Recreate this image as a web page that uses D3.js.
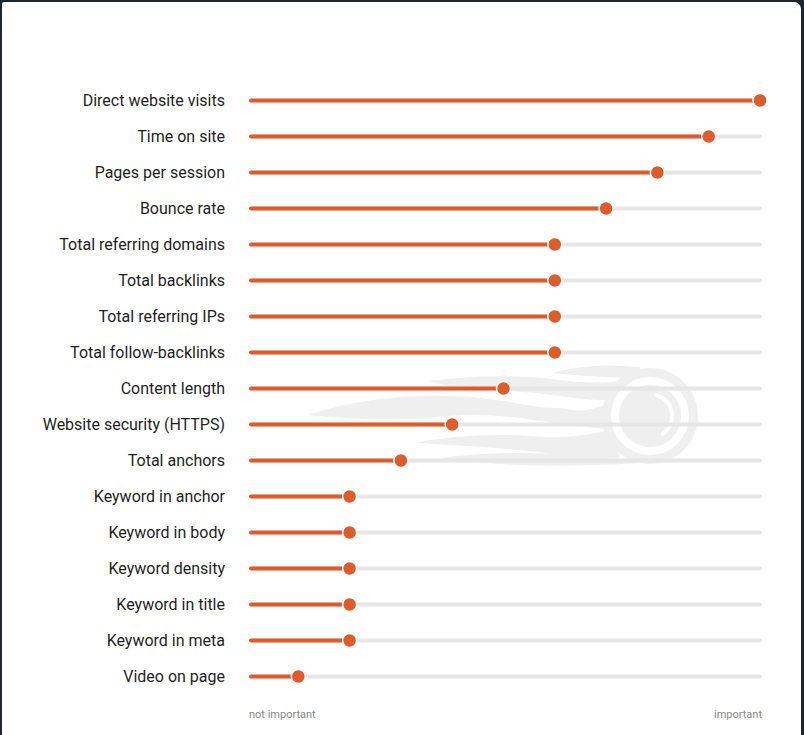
<!DOCTYPE html>
<html>
<head>
<meta charset="utf-8">
<script src="https://cdn.jsdelivr.net/npm/d3@7"></script>
<style>
  html, body { margin: 0; padding: 0; background: #1d2530; overflow: hidden; }
  #frame { position: absolute; left: 2px; top: 2px; width: 799px; height: 760px; background: #fff; border-top-right-radius: 7px; border-top-left-radius: 2px; }
  svg { position: absolute; left: 0; top: 0; }
</style>
</head>
<body>
<div id="frame"></div>
<script>
const categories = [
  "Direct website visits", "Time on site", "Pages per session", "Bounce rate",
  "Total referring domains", "Total backlinks", "Total referring IPs",
  "Total follow-backlinks", "Content length", "Website security (HTTPS)",
  "Total anchors", "Keyword in anchor", "Keyword in body", "Keyword density",
  "Keyword in title", "Keyword in meta", "Video on page"
];
const values = [10, 9, 8, 7, 6, 6, 6, 6, 5, 4, 3, 2, 2, 2, 2, 2, 1];
const axisLabels = ["not important", "important"];
const domainMax = 10;

const W = 804, H = 735;
const svg = d3.select("body").append("svg").attr("width", W).attr("height", H);

const x = d3.scaleLinear().domain([0, domainMax]).range([247, 760]);
const y = d3.scalePoint().domain(categories).range([100.5, 676.5]).padding(0);

const orange = "#de5b2a";
const track = "#e6e6e6";
const wm = "#efefef";

// Watermark (flame logo)
const g = svg.append("g");
const cx = 650, cy = 416;
g.append("circle").attr("cx", cx).attr("cy", cy).attr("r", 48).attr("fill", wm);
const tongues = [
  "M552,373 Q590,362 640,367 L645,378 Q600,378 552,373 Z",
  "M428,381 Q500,372 560,380 Q600,386 640,378 L640,400 Q600,402 560,396 Q500,388 470,392 Q450,386 428,381 Z",
  "M307,415 Q360,398 420,396 Q470,394 520,404 Q560,412 610,405 L615,430 Q560,424 520,418 Q470,412 430,418 Q370,422 307,415 Z",
  "M414,443 Q470,432 530,436 Q570,440 610,430 L620,458 Q580,462 540,452 Q480,446 414,443 Z",
  "M440,458 Q520,448 600,458 L640,463 Q560,468 500,464 Q470,462 440,458 Z"
];
g.selectAll("path.t").data(tongues).join("path").attr("class", "t").attr("d", d => d).attr("fill", wm);
const cuts = [
  "M470,392 Q520,396 560,408 Q590,414 600,405 Q585,402 560,398 Q510,390 470,392 Z",
  "M430,418 Q480,420 530,428 Q560,432 590,428 Q560,424 520,419 Q470,414 430,418 Z"
];
g.selectAll("path.c").data(cuts).join("path").attr("class", "c").attr("d", d => d).attr("fill", "#fff");
g.append("circle").attr("cx", cx).attr("cy", cy).attr("r", 35).attr("fill", "none").attr("stroke", "#fff").attr("stroke-width", 8);
const arc = d3.arc().innerRadius(20).outerRadius(24).startAngle(0.2).endAngle(2.6);
g.append("path").attr("transform", `translate(${cx},${cy})`).attr("d", arc()).attr("fill", "#fff");

// Tracks
const rows = svg.append("g");
rows.selectAll("line.track").data(categories).join("line")
  .attr("class", "track")
  .attr("x1", x(0) + 4).attr("x2", x(domainMax))
  .attr("y1", d => y(d)).attr("y2", d => y(d))
  .attr("stroke", track).attr("stroke-width", 4).attr("stroke-linecap", "round");

rows.selectAll("line.bar").data(values).join("line")
  .attr("class", "bar")
  .attr("x1", x(0) + 4).attr("x2", d => x(d))
  .attr("y1", (d, i) => y(categories[i])).attr("y2", (d, i) => y(categories[i]))
  .attr("stroke", orange).attr("stroke-width", 4).attr("stroke-linecap", "round");

rows.selectAll("circle.dot").data(values).join("circle")
  .attr("class", "dot")
  .attr("cx", d => x(d)).attr("cy", (d, i) => y(categories[i]))
  .attr("r", 7).attr("fill", orange).attr("stroke", "#fff").attr("stroke-width", 1.5);

// Labels
rows.selectAll("text.lab").data(categories).join("text")
  .attr("class", "lab")
  .attr("x", 225).attr("y", d => y(d)).attr("dy", "0.35em")
  .attr("text-anchor", "end")
  .attr("font-family", "Roboto, sans-serif").attr("font-size", 16)
  .attr("fill", "#1f1f1f")
  .text(d => d);

// Bottom axis labels
svg.append("text").attr("x", x(0) + 2).attr("y", 718)
  .attr("font-family", "Roboto, sans-serif").attr("font-size", 11).attr("fill", "#888")
  .text(axisLabels[0]);
svg.append("text").attr("x", x(domainMax) + 2).attr("y", 718).attr("text-anchor", "end")
  .attr("font-family", "Roboto, sans-serif").attr("font-size", 11).attr("fill", "#888")
  .text(axisLabels[1]);
</script>
</body>
</html>
